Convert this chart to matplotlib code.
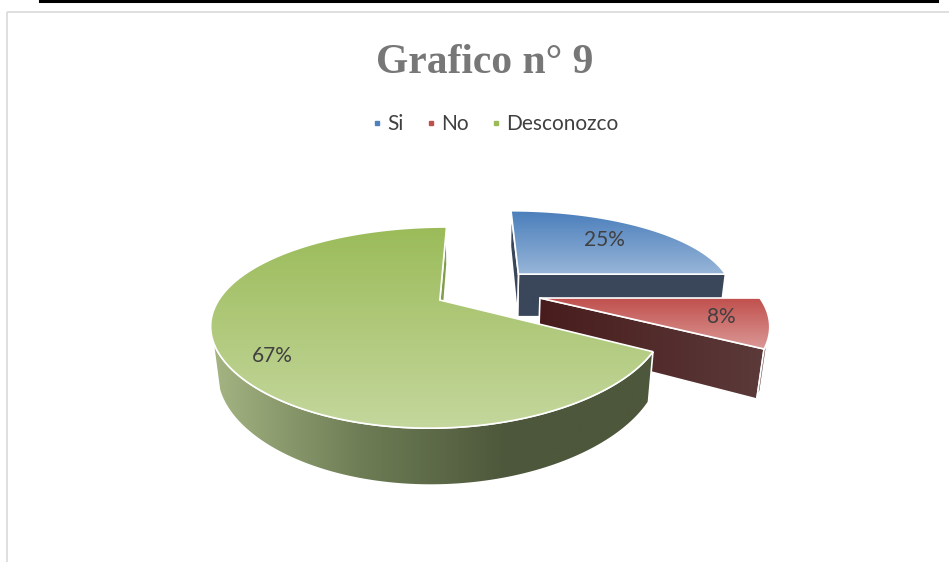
import numpy as np
import matplotlib
matplotlib.use("Agg")
import matplotlib.pyplot as plt
from matplotlib.patches import Polygon, Rectangle
from matplotlib.lines import Line2D

# datos
labels = ["Si", "No", "Desconozco"]
values = [25, 8, 67]
explode = [0.29, 0.30, 0.19]
label_r = [0.68, 0.80, 0.83]
label_shift = [0, 0, 8]  # grados

# colores (rgb 0-255)
top_grad = [[(74, 126, 187), (151, 181, 216)],
            [(192, 80, 77), (219, 152, 150)],
            [(155, 187, 89), (196, 215, 157)]]
side_grad = [[(58, 70, 90), (58, 70, 90)],
             [(72, 28, 28), (92, 58, 58)],
             [(164, 180, 130), (110, 125, 85), (77, 87, 59), (77, 87, 59)]]
cut_grad = [[(58, 70, 90), (58, 70, 90)],
            [(72, 28, 28), (92, 58, 58)],
            [(128, 158, 78), (128, 158, 78)]]
legend_cols = ["#4F81BD", "#C0504D", "#9BBB59"]

# camara en perspectiva (horizontal algo mas suave que vertical, como excel)
EL = np.radians(24)
K = 744.0
DIST = 3.427
KX = 889.5
DIST_H = 4.111
CX, CY = 476.0, 291.3
THICK = 0.23
CAM = np.array([0.0, -DIST*np.cos(EL), DIST*np.sin(EL)])


def proj(X, Y, Z):
    X = np.atleast_1d(np.asarray(X, float))
    Y = np.atleast_1d(np.asarray(Y, float))
    Z = np.atleast_1d(np.asarray(Z, float))
    u, c = np.sin(EL), np.cos(EL)
    v = Y*u + Z*c
    d = DIST + Y*c - Z*u
    dh = DIST_H + Y*c - Z*u
    return np.column_stack([CX + KX*X/dh, CY - K*v/d])


def grad_poly(ax, pts, stops, horizontal, z):
    patch = Polygon(pts, closed=True, facecolor='none', edgecolor='white', lw=1.2, zorder=z+0.5)
    ax.add_patch(patch)
    t = np.linspace(0, 1, 256)
    arr = np.array(stops)/255.0
    pos = np.linspace(0, 1, len(stops))
    cols = np.stack([np.interp(t, pos, arr[:, k]) for k in range(3)], axis=1)
    x0, x1 = pts[:, 0].min(), pts[:, 0].max()
    y0, y1 = pts[:, 1].min(), pts[:, 1].max()
    img = cols[None, :, :] if horizontal else cols[:, None, :]
    im = ax.imshow(img, extent=(x0, x1, y1, y0), origin='upper', aspect='auto',
                   interpolation='bilinear', zorder=z)
    im.set_clip_path(patch)


fig = plt.figure(figsize=(9.49, 5.62), dpi=100)
ax = fig.add_axes([0, 0, 1, 1])

# marco
ax.add_patch(Rectangle((7, 12), 960, 600, facecolor='none', edgecolor='#D9D9D9', lw=1.2))
ax.plot([40, 937], [1, 1], color='black', lw=2.2)

# angulos de las porciones (empieza arriba, sentido horario)
slices = []
a = 90.0
for i, v in enumerate(values):
    t1 = a - 360.0*v/sum(values)
    t2 = a
    mid = np.radians((t1 + t2)/2)
    ox, oy = explode[i]*np.cos(mid), explode[i]*np.sin(mid)
    slices.append((i, np.radians(t1), np.radians(t2), ox, oy))
    a = t1

# ordenar de atras hacia adelante
def depth(s):
    i, t1, t2, ox, oy = s
    m = (t1 + t2)/2
    return oy + 0.5*np.sin(m)
slices.sort(key=depth, reverse=True)

z = 2
for i, t1, t2, ox, oy in slices:
    th = np.linspace(t1, t2, 200)
    # caras de corte
    for tc, n in ((t1, (np.sin(t1), -np.cos(t1))), (t2, (-np.sin(t2), np.cos(t2)))):
        vis = n[0]*(CAM[0] - ox) + n[1]*(CAM[1] - oy)
        if vis > 0:
            pts = np.vstack([proj(ox, oy, 0), proj(ox + np.cos(tc), oy + np.sin(tc), 0),
                             proj(ox + np.cos(tc), oy + np.sin(tc), -THICK), proj(ox, oy, -THICK)])
            grad_poly(ax, pts, cut_grad[i], True, z)
            z += 1
    # lado exterior visible
    px, py = ox + np.cos(th), oy + np.sin(th)
    vis = np.cos(th)*(CAM[0] - px) + np.sin(th)*(CAM[1] - py) > 0
    if vis.any():
        idx = np.where(vis)[0]
        runs = np.split(idx, np.where(np.diff(idx) > 1)[0] + 1)
        for r in runs:
            if len(r) < 2:
                continue
            top = proj(px[r], py[r], np.zeros(len(r)))
            bot = proj(px[r], py[r], np.full(len(r), -THICK))
            grad_poly(ax, np.vstack([top, bot[::-1]]), side_grad[i], True, z)
            z += 1
    # cara superior
    pts = np.vstack([proj(ox, oy, 0), proj(px, py, np.zeros(len(th)))])
    grad_poly(ax, pts, top_grad[i], False, z)
    z += 1

# etiquetas de porcentaje
for i, t1, t2, ox, oy in slices:
    m = (t1 + t2)/2 + np.radians(label_shift[i])
    p = proj(ox + label_r[i]*np.cos(m), oy + label_r[i]*np.sin(m), 0)[0]
    ax.text(p[0], p[1], f"{values[i]}%", ha='center', va='center', fontsize=15,
            family='Lato', color='#404040', zorder=100)

ax.text(485, 73, "Grafico n° 9", ha='center', va='baseline', fontsize=30,
        family='Liberation Serif', weight='bold', color='#777777')

handles = [Line2D([], [], marker='s', ls='none', color=c, markersize=2.5) for c in legend_cols]
ax.legend(handles, labels, loc='center', bbox_to_anchor=(496/949, 1 - 124/562), ncol=3,
          frameon=False, prop=dict(family='Lato', size=15), handlelength=0.4,
          handletextpad=0.3, columnspacing=1.1, labelcolor='#404040')

ax.set_xlim(0, 949)
ax.set_ylim(562, 0)
ax.axis('off')
fig.savefig("out.png", dpi=100)
